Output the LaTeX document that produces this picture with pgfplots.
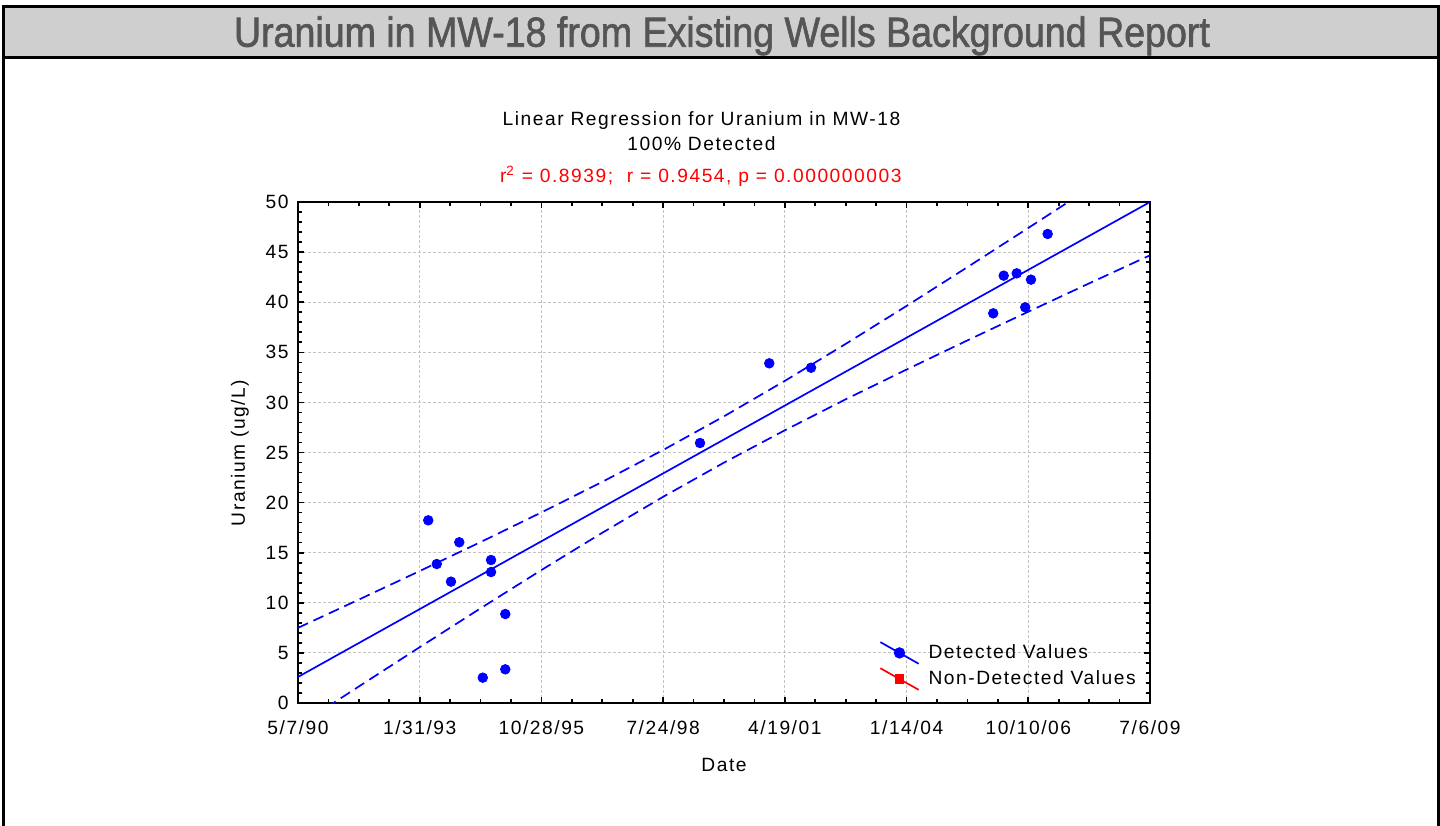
\documentclass[border=0pt]{standalone}
\usepackage{pgfplots}
\pgfplotsset{compat=1.18}
\usepackage{fontspec}
\usepackage{graphicx}
\setmainfont{Liberation Sans}[LetterSpace=8]
\newfontfamily\titlefont{Liberation Sans}[FakeBold=1.6]
\definecolor{bargray}{RGB}{208,207,208}
\definecolor{titlegray}{RGB}{85,85,85}
\definecolor{gridgray}{RGB}{195,195,195}

\pgfplotstableread{
day value
1070 18.23
1325 16.04
1140 13.87
1586 14.27
1586 13.07
1257 12.11
1703 8.88
1518 2.53
1703 3.36
3303 25.95
3872 33.90
4215 33.46
5712 38.89
5798 42.65
5905 42.88
6022 42.25
5975 39.49
6159 46.81
}\detected

\pgfplotstableread{
day upper lower
0 7.50 -2.30
500 10.32 1.65
1000 13.17 5.57
1500 16.06 9.45
2000 19.02 13.27
2500 22.07 16.99
3000 25.25 20.58
3500 28.61 23.99
4000 32.15 27.22
4500 35.84 30.31
5000 39.63 33.28
5500 43.50 36.19
6000 47.41 39.05
6500 51.35 41.88
7000 55.32 44.68
}\bands

\begin{document}
\fontsize{9.6pt}{11pt}\selectfont
\begin{tikzpicture}
\useasboundingbox (0pt,0pt) rectangle (720pt,412.5pt);
\fill[white] (0pt,0pt) rectangle (720pt,412.5pt);
\fill[bargray] (1.6pt,383.65pt) rectangle (719.35pt,409.4pt);
\draw[line width=1.5pt] (1.6pt,-5pt) -- (1.6pt,409.4pt) -- (719.35pt,409.4pt) -- (719.35pt,-5pt);
\draw[line width=1.7pt] (1.6pt,383.65pt) -- (719.35pt,383.65pt);
\node[anchor=base, text=titlegray, inner sep=0pt] at (361pt,389.15pt)
  {\resizebox{488pt}{15.2pt}{\titlefont Uranium in MW-18 from Existing Wells Background Report}};

\begin{axis}[
  at={(149pt,61pt)}, anchor=south west,
  scale only axis, width=426pt, height=250.5pt,
  xmin=0, xmax=7000, ymin=0, ymax=50,
  xtick={0,1000,2000,3000,4000,5000,6000,7000},
  xticklabels={5/7/90,1/31/93,10/28/95,7/24/98,4/19/01,1/14/04,10/10/06,7/6/09},
  ytick={0,5,10,15,20,25,30,35,40,45,50},
  minor x tick num=3, minor y tick num=4,
  tick align=inside,
  major tick length=3pt, minor tick length=1.8pt,
  every tick/.style={black, line width=0.8pt},
  axis line style={line width=1pt},
  grid=major,
  major grid style={gridgray, dash pattern=on 1.5pt off 1pt, line width=0.5pt},
  /pgf/number format/assume math mode=true,
  xticklabel style={yshift=-5.3pt},
  yticklabel style={xshift=-1.3pt},
  legend style={at={(rel axis cs:0.675,0.132)}, anchor=north west, draw=none, fill=none,
     row sep=1.4pt, nodes={inner sep=1pt}, column sep=3.5pt},
  legend cell align=left,
  legend image code/.code={\draw[mark repeat=2,mark phase=2,#1] plot coordinates {(0pt,5.4pt) (9.575pt,0pt) (19.15pt,-5.4pt)};},
]
\addplot[blue, line width=0.85pt, forget plot] coordinates {(0,2.6) (7000,50)};
\addplot[blue, line width=0.85pt, dash pattern=on 5.5pt off 3pt, forget plot] table[x=day,y=upper] {\bands};
\addplot[blue, line width=0.85pt, dash pattern=on 5.5pt off 3pt, forget plot] table[x=day,y=lower] {\bands};
\addplot[blue, only marks, mark=*, mark size=2.4pt, forget plot] table[x=day,y=value] {\detected};
\addlegendimage{blue, line width=0.85pt, mark=*, mark size=2.4pt}
\addlegendentry{Detected Values}
\addlegendimage{red, line width=0.85pt, mark=square*, mark size=2pt}
\addlegendentry{Non-Detected Values}
\end{axis}

\node[anchor=base] at (350.75pt,349.8pt) {Linear Regression for Uranium in MW-18};
\node[anchor=base] at (350.75pt,337.2pt) {100\% Detected};
\node[anchor=base, text=red] at (350.4pt,321.2pt) {r\textsuperscript{2} = 0.8939;\ \ r = 0.9454, p = 0.000000003};
\node[rotate=90, anchor=center] at (120pt,186pt) {Uranium (ug/L)};
\node[anchor=base] at (362pt,27pt) {Date};
\end{tikzpicture}
\end{document}
